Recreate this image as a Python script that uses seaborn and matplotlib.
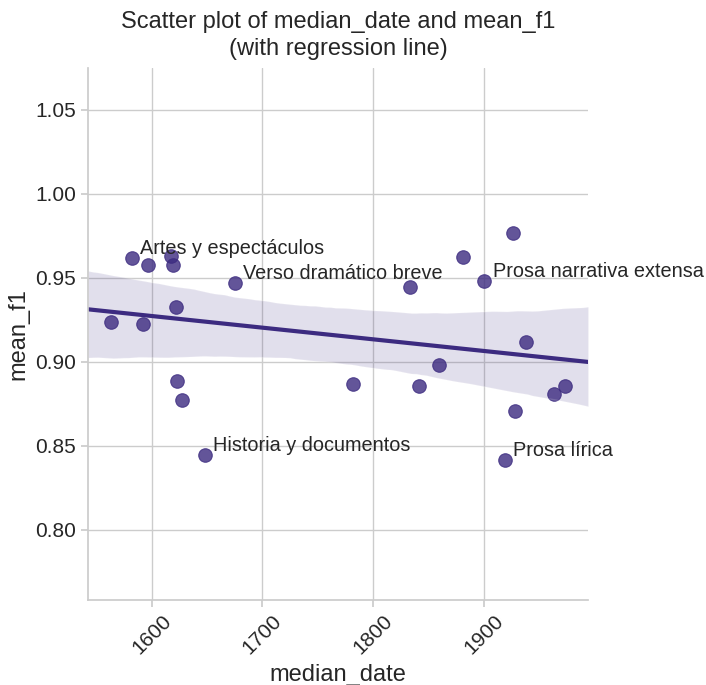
import matplotlib
matplotlib.use("Agg")
import matplotlib.pyplot as plt
import seaborn as sns
import pandas as pd

median_date = [1563, 1582, 1592, 1597, 1617, 1619, 1621.7, 1622.6, 1627, 1648,
               1674.8, 1781.7, 1833.5, 1841.6, 1859.4, 1881, 1900.3, 1926,
               1918.7, 1928.3, 1937.6, 1963, 1973.5]
mean_f1 = [0.9238, 0.962, 0.9226, 0.9577, 0.963, 0.958, 0.9327, 0.8887, 0.8774, 0.8446,
           0.9468, 0.8871, 0.9448, 0.8857, 0.898, 0.9627, 0.948, 0.977,
           0.8419, 0.8708, 0.9121, 0.8811, 0.8855]
labels = ["", "Artes y espectáculos", "", "", "", "", "", "", "", "Historia y documentos",
          "Verso dramático breve", "", "", "", "", "", "Prosa narrativa extensa", "",
          "Prosa lírica", "", "", "", ""]
x_ticks = [1600, 1700, 1800, 1900]
y_ticks = [0.80, 0.85, 0.90, 0.95, 1.00, 1.05]

df = pd.DataFrame({"median_date": median_date, "mean_f1": mean_f1, "label": labels})

sns.set_theme(style="whitegrid")
plt.rcParams["font.family"] = ["Liberation Sans", "DejaVu Sans"]
plt.rcParams["axes.edgecolor"] = "#cccccc"

color = "#3c2b80"

fig = plt.figure(figsize=(7.06, 6.85), dpi=100)
ax = fig.add_axes([88 / 706, 1 - 600 / 685, 500 / 706, 532 / 685])

sns.regplot(data=df, x="median_date", y="mean_f1", ax=ax, color=color,
            truncate=False, seed=0,
            scatter_kws={"s": 95, "alpha": 0.8, "edgecolor": color, "linewidths": 0.8},
            line_kws={"lw": 3})

for xv, yv, lab in zip(median_date, mean_f1, labels):
    if lab:
        ax.annotate(lab, (xv, yv), xytext=(6, 0), textcoords="offset points",
                    va="bottom", ha="left", fontsize=14.3, color="#262626")

ax.set_ylim(0.7583, 1.075)
ax.set_xticks(x_ticks)
ax.set_yticks(y_ticks)
ax.set_yticklabels([f"{v:.2f}" for v in y_ticks])
ax.tick_params(axis="both", labelsize=15, colors="#262626", length=5, color="#cccccc",
               left=True, bottom=True)
plt.setp(ax.get_xticklabels(), rotation=45)
ax.set_xlabel("median_date", fontsize=17, color="#262626")
ax.set_ylabel("mean_f1", fontsize=17, color="#262626")
ax.set_title("Scatter plot of median_date and mean_f1\n(with regression line)",
             fontsize=17, color="#262626", linespacing=1.3, pad=9)
sns.despine(ax=ax)

fig.savefig("out.png", dpi=100)
